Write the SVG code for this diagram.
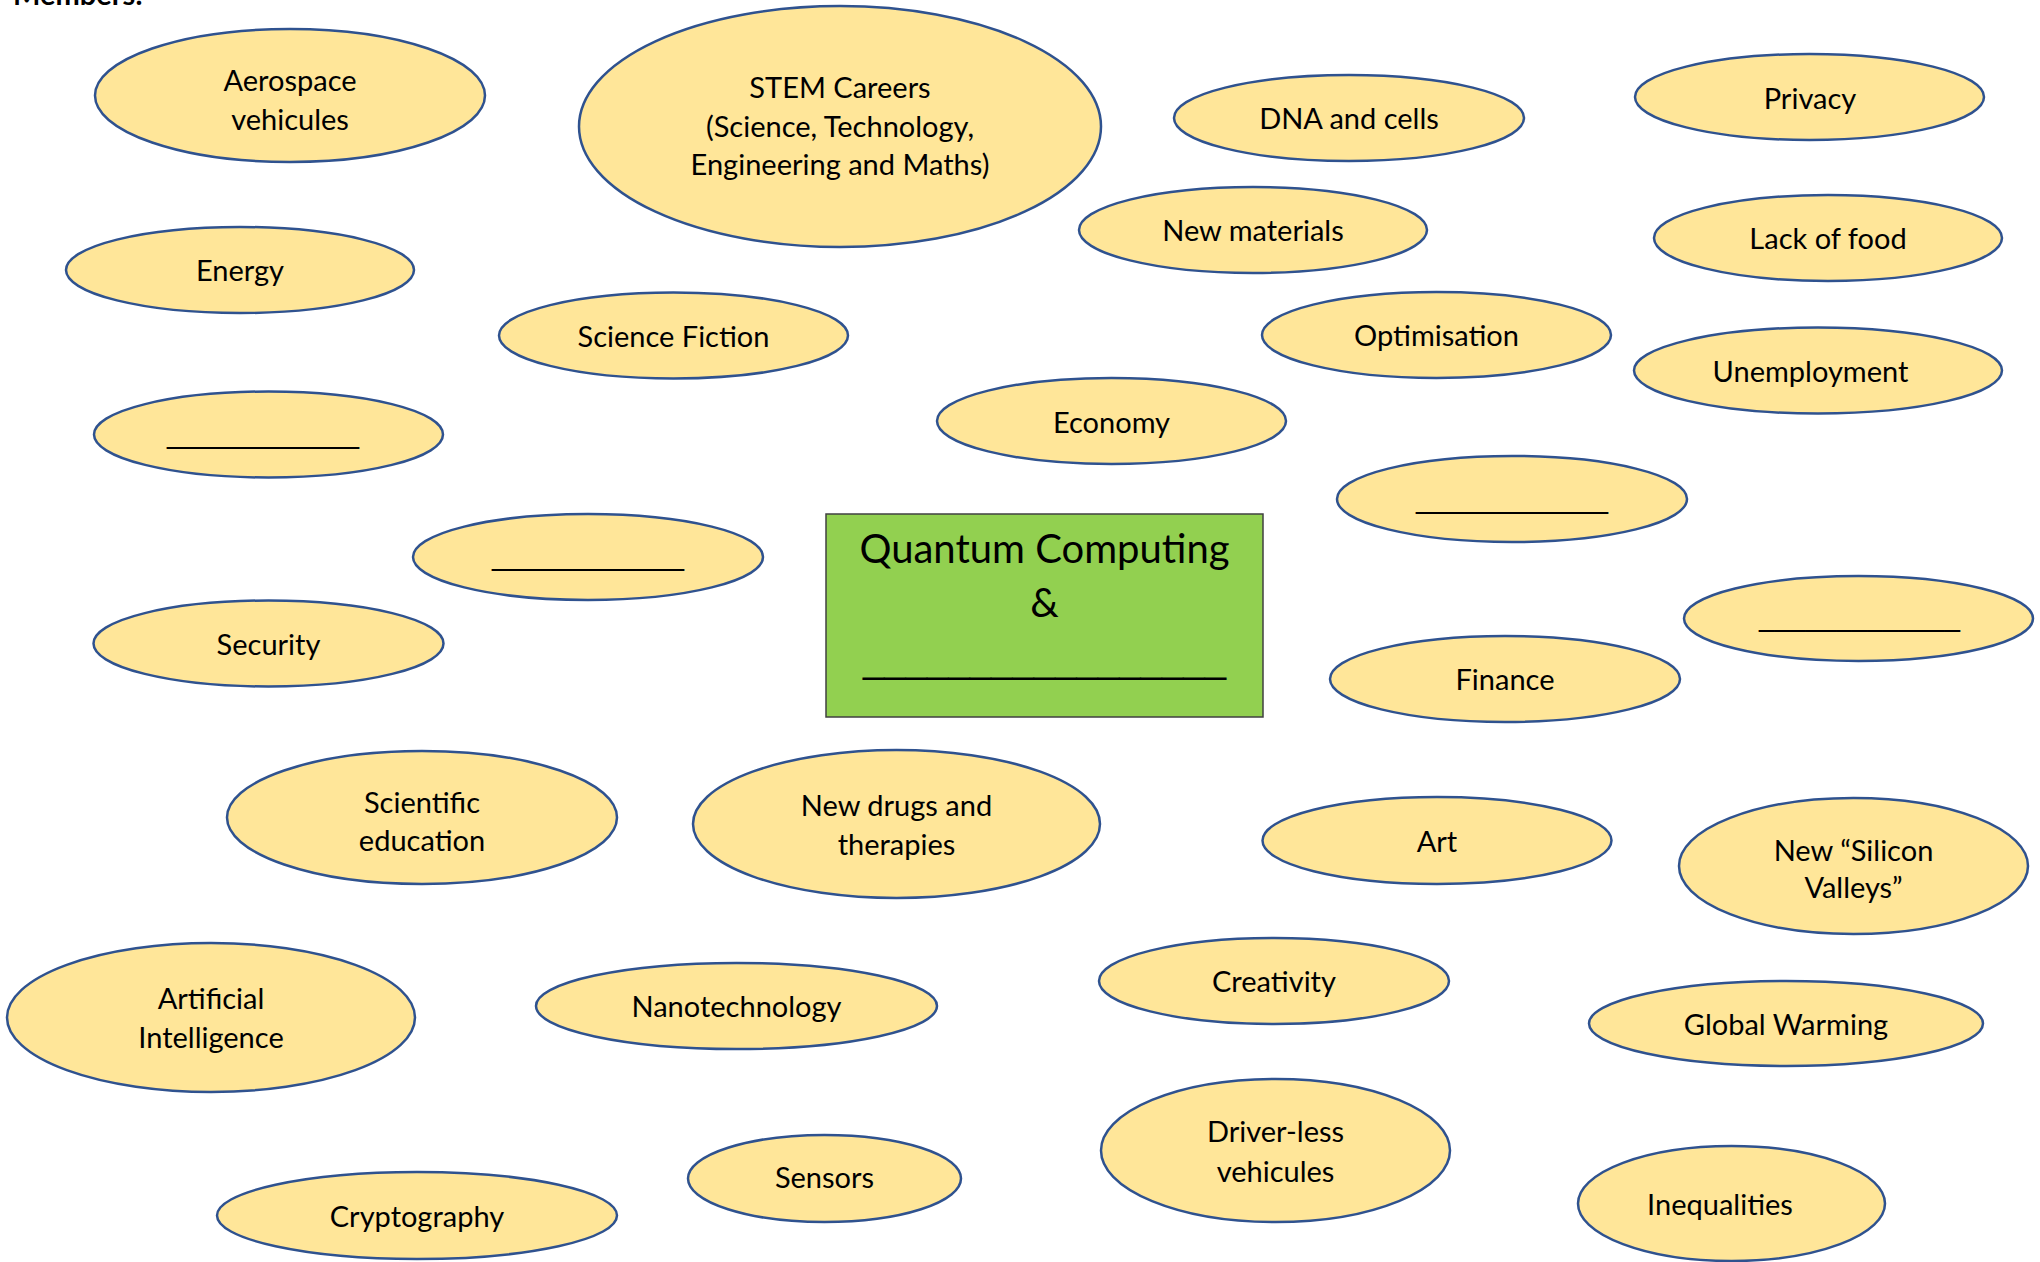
<svg xmlns="http://www.w3.org/2000/svg" width="2040" height="1262" viewBox="0 0 2040 1262">
<style>
.n ellipse{fill:#FFE699;stroke:#2F528F;stroke-width:2.5}
text{font-family:Lato,"Open Sans","Liberation Sans",sans-serif;fill:#000}
.l{font-size:29px;text-anchor:middle}
.b{font-family:"Liberation Sans",Arial,sans-serif;font-size:29px}
.t{font-size:40px;text-anchor:middle}
</style>
<rect width="2040" height="1262" fill="#fff"/>
<text x="13" y="5" font-size="29px" font-weight="bold">Members:</text>
<g id="connectors"/>
<g id="center">
<rect x="826" y="514" width="437" height="203" fill="#92D050" stroke="#404040" stroke-width="1.5"/>
<text class="t" x="1044.5" y="563">Quantum Computing</text>
<text class="t" x="1044.5" y="617">&amp;</text>
<text class="b" x="863" y="672" textLength="363" lengthAdjust="spacingAndGlyphs" style="font-size:40px">_________________</text>
</g>
<g id="aerospace" class="n"><ellipse cx="290" cy="95.5" rx="195" ry="66.5"/><text class="l" x="290" y="91">Aerospace</text><text class="l" x="290" y="130">vehicules</text></g>
<g id="stem" class="n"><ellipse cx="840" cy="126.5" rx="261" ry="120.5"/><text class="l" x="840" y="98">STEM Careers</text><text class="l" x="840" y="136.5">(Science, Technology,</text><text class="l" x="840" y="175">Engineering and Maths)</text></g>
<g id="dna" class="n"><ellipse cx="1349" cy="118" rx="175" ry="43"/><text class="l" x="1349" y="129">DNA and cells</text></g>
<g id="privacy" class="n"><ellipse cx="1809.5" cy="97" rx="174.5" ry="43"/><text class="l" x="1810" y="109">Privacy</text></g>
<g id="materials" class="n"><ellipse cx="1253" cy="230" rx="174" ry="43"/><text class="l" x="1253" y="241">New materials</text></g>
<g id="food" class="n"><ellipse cx="1828" cy="238" rx="174" ry="43"/><text class="l" x="1828" y="249">Lack of food</text></g>
<g id="energy" class="n"><ellipse cx="240" cy="270" rx="174" ry="43"/><text class="l" x="240" y="281">Energy</text></g>
<g id="scifi" class="n"><ellipse cx="673.5" cy="335.5" rx="174.5" ry="43"/><text class="l" x="673.5" y="346.5">Science Fiction</text></g>
<g id="optimisation" class="n"><ellipse cx="1436.5" cy="335" rx="174.5" ry="43"/><text class="l" x="1436.5" y="346">Optimisation</text></g>
<g id="unemployment" class="n"><ellipse cx="1818" cy="370.5" rx="184" ry="43"/><text class="l" x="1810.5" y="381.5">Unemployment</text></g>
<g id="economy" class="n"><ellipse cx="1111.5" cy="421" rx="174.5" ry="43"/><text class="l" x="1111.5" y="432.5">Economy</text></g>
<g id="blank1" class="n"><ellipse cx="268.5" cy="434.5" rx="174.5" ry="43"/><text class="b" x="167" y="443" textLength="192" lengthAdjust="spacingAndGlyphs">____________</text></g>
<g id="blank2" class="n"><ellipse cx="1512" cy="499" rx="175" ry="43"/><text class="b" x="1416" y="508" textLength="192" lengthAdjust="spacingAndGlyphs">____________</text></g>
<g id="blank3" class="n"><ellipse cx="588" cy="557" rx="175" ry="43"/><text class="b" x="492" y="565" textLength="192" lengthAdjust="spacingAndGlyphs">____________</text></g>
<g id="security" class="n"><ellipse cx="268.5" cy="643.5" rx="175" ry="43"/><text class="l" x="268.5" y="655">Security</text></g>
<g id="blank4" class="n"><ellipse cx="1858.5" cy="618.5" rx="174.5" ry="42.5"/><text class="b" x="1759" y="626" textLength="201" lengthAdjust="spacingAndGlyphs">_____________</text></g>
<g id="finance" class="n"><ellipse cx="1505" cy="679" rx="175" ry="43"/><text class="l" x="1505" y="689.5">Finance</text></g>
<g id="education" class="n"><ellipse cx="422" cy="817.5" rx="195" ry="66.5"/><text class="l" x="422" y="812.5">Scientific</text><text class="l" x="422" y="851">education</text></g>
<g id="drugs" class="n"><ellipse cx="896.5" cy="824" rx="203.5" ry="74"/><text class="l" x="896.5" y="816">New drugs and</text><text class="l" x="896.5" y="855">therapies</text></g>
<g id="art" class="n"><ellipse cx="1437" cy="840.5" rx="174.5" ry="43.5"/><text class="l" x="1437" y="852">Art</text></g>
<g id="silicon" class="n"><ellipse cx="1853.5" cy="866" rx="174.5" ry="68"/><text class="l" x="1853.5" y="860.5">New “Silicon</text><text class="l" x="1853.5" y="898">Valleys”</text></g>
<g id="ai" class="n"><ellipse cx="211" cy="1017.5" rx="204" ry="74.5"/><text class="l" x="211" y="1009">Artificial</text><text class="l" x="211" y="1048">Intelligence</text></g>
<g id="nano" class="n"><ellipse cx="736.5" cy="1006" rx="200.5" ry="43"/><text class="l" x="736.5" y="1017">Nanotechnology</text></g>
<g id="creativity" class="n"><ellipse cx="1274" cy="981" rx="175" ry="43"/><text class="l" x="1274" y="991.5">Creativity</text></g>
<g id="warming" class="n"><ellipse cx="1786" cy="1023.5" rx="197" ry="42.5"/><text class="l" x="1786" y="1035">Global Warming</text></g>
<g id="driverless" class="n"><ellipse cx="1275.5" cy="1150.5" rx="174.5" ry="71.5"/><text class="l" x="1275.5" y="1141.5">Driver-less</text><text class="l" x="1275.5" y="1181.5">vehicules</text></g>
<g id="sensors" class="n"><ellipse cx="824.5" cy="1178.5" rx="136.5" ry="43.5"/><text class="l" x="824.5" y="1188">Sensors</text></g>
<g id="crypto" class="n"><ellipse cx="417" cy="1215.5" rx="200" ry="43.5"/><text class="l" x="417" y="1226.5">Cryptography</text></g>
<g id="inequalities" class="n"><ellipse cx="1731.5" cy="1203.5" rx="153.5" ry="57.5"/><text class="l" x="1720" y="1215">Inequalities</text></g>
</svg>
